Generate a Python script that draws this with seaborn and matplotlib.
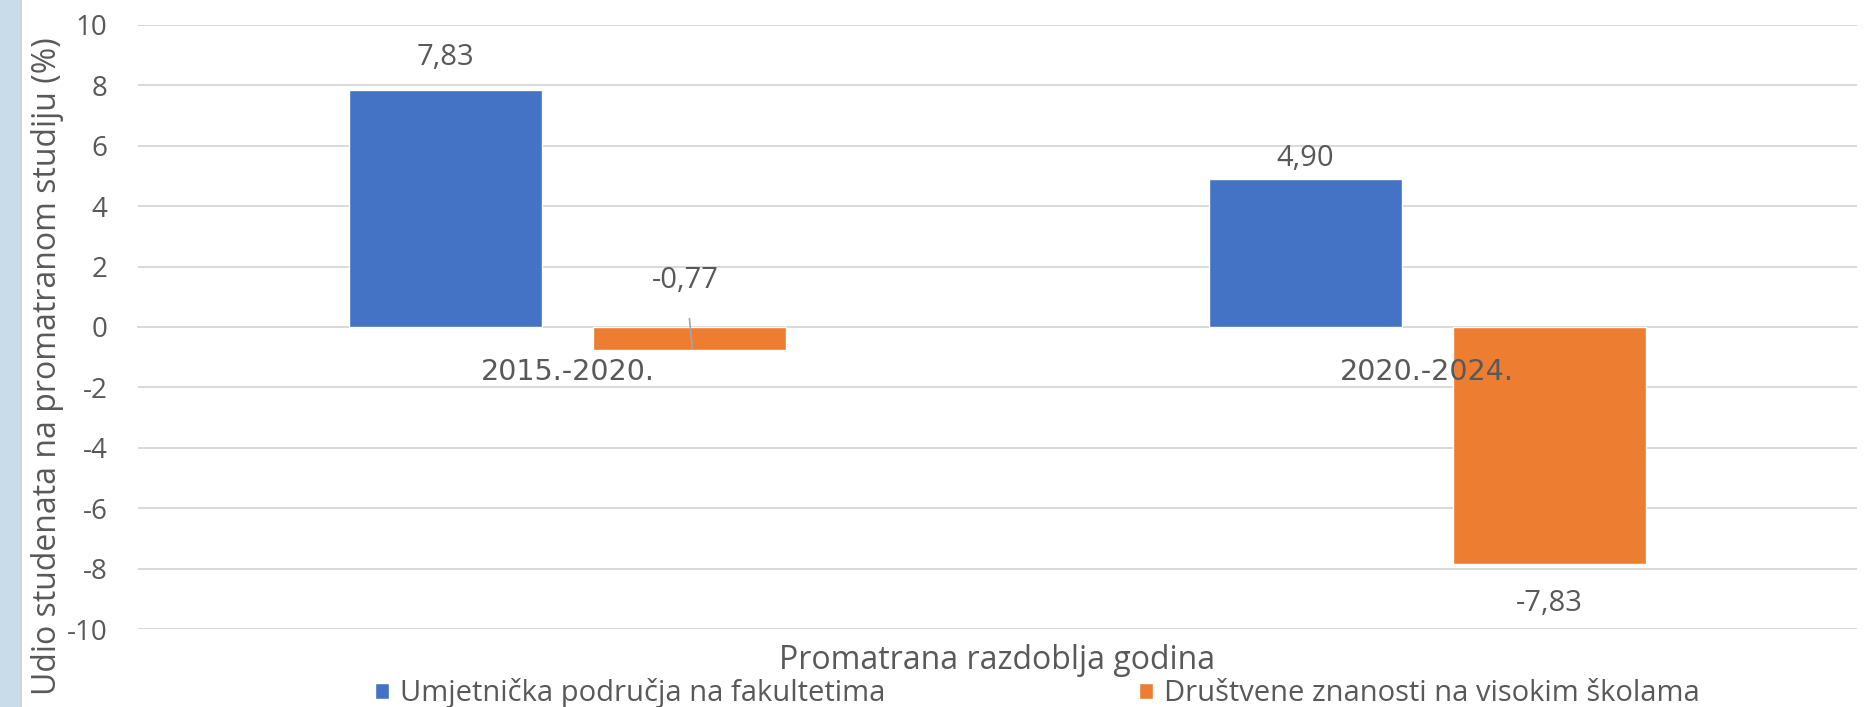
import pandas as pd
import seaborn as sns
import matplotlib.pyplot as plt
from matplotlib.patches import Rectangle

periods = ["2015.-2020.", "2020.-2024."]
series_names = ["Umjetnička područja na fakultetima",
                "Društvene znanosti na visokim školama"]
arts_values = [7.83, 4.90]
social_values = [-0.77, -7.83]
colors = ["#4472C4", "#ED7D31"]
y_ticks = [10, 8, 6, 4, 2, 0, -2, -4, -6, -8, -10]

df = pd.DataFrame({
    "period": periods * 2,
    "series": [series_names[0]] * 2 + [series_names[1]] * 2,
    "value": arts_values + social_values,
})

sns.set_theme(style="white")
plt.rcParams["font.family"] = ["Open Sans", "DejaVu Sans"]
plt.rcParams["axes.unicode_minus"] = False
text_color = "#595959"

fig = plt.figure(figsize=(18.68, 7.07), dpi=100)
ax = fig.add_axes([0.0739, 0.110, 0.9202, 0.855])

# decorative strip on the left edge
fig.patches.append(Rectangle((0, 0), 0.0107, 1, transform=fig.transFigure,
                             facecolor="#C8DCEA", edgecolor="none", zorder=0))
fig.patches.append(Rectangle((0.0107, 0), 0.0012, 1, transform=fig.transFigure,
                             facecolor="#D3D3D3", edgecolor="none", zorder=0))

sns.barplot(data=df, x="period", y="value", hue="series", hue_order=series_names,
            palette=colors, width=0.568, gap=0.21, saturation=1, ax=ax,
            legend=True, zorder=2)

ax.set_ylim(-10, 10)
ax.set_yticks(y_ticks)
ax.set_xlim(-0.5, 1.5)
ax.yaxis.grid(True, color="#D9D9D9", lw=1.4, zorder=0)
ax.set_axisbelow(True)
# category labels sit on the zero line and are drawn over the bars
ax.xaxis.set_zorder(3)
for side in ["top", "right", "left"]:
    ax.spines[side].set_visible(False)
ax.spines["bottom"].set_position(("data", 0))
ax.spines["bottom"].set_color("#D9D9D9")
ax.spines["bottom"].set_linewidth(1.4)
ax.spines["bottom"].set_zorder(1)
ax.tick_params(axis="y", length=0, labelsize=20, labelcolor=text_color, pad=22)
ax.tick_params(axis="x", length=0, labelsize=20.5, labelcolor=text_color, pad=22)
for lbl in ax.get_xticklabels():
    lbl.set_family("DejaVu Sans")

ax.set_ylabel("Udio studenata na promatranom studiju (%)", fontsize=23,
              color=text_color)
ax.yaxis.set_label_coords(-0.043, 0.435)
ax.set_xlabel("Promatrana razdoblja godina", fontsize=23, color=text_color)
ax.xaxis.set_label_coords(0.5, -0.025)

# data labels with comma decimals
def fmt(v):
    return f"{v:.2f}".replace(".", ",")

ax.bar_label(ax.containers[0], labels=[fmt(arts_values[0]), ""],
             padding=13, fontsize=21, color=text_color)
ax.bar_label(ax.containers[0], labels=["", fmt(arts_values[1])],
             padding=4, fontsize=21, color=text_color)
ax.bar_label(ax.containers[1],
             labels=["" if v > -1 else fmt(v) for v in social_values],
             padding=18, fontsize=21, color=text_color)

# the small negative value has its label moved up with a leader line
bar = ax.containers[1][0]
bx = bar.get_x() + bar.get_width() / 2
ax.annotate(fmt(social_values[0]), xy=(bx + 0.003, social_values[0] + 0.05),
            xytext=(bx - 0.005, 1.55), ha="center", va="center",
            fontsize=21, color=text_color,
            arrowprops=dict(arrowstyle="-", color="#A6A6A6", lw=1.2,
                            shrinkA=15, shrinkB=0))

leg = ax.legend(loc="center", bbox_to_anchor=(0.523, -0.106), ncol=2,
                frameon=False, fontsize=21, handlelength=0.5,
                handleheight=0.5, handletextpad=0.35, columnspacing=8.7)
for t in leg.get_texts():
    t.set_color(text_color)

fig.savefig("out.png", dpi=100)
